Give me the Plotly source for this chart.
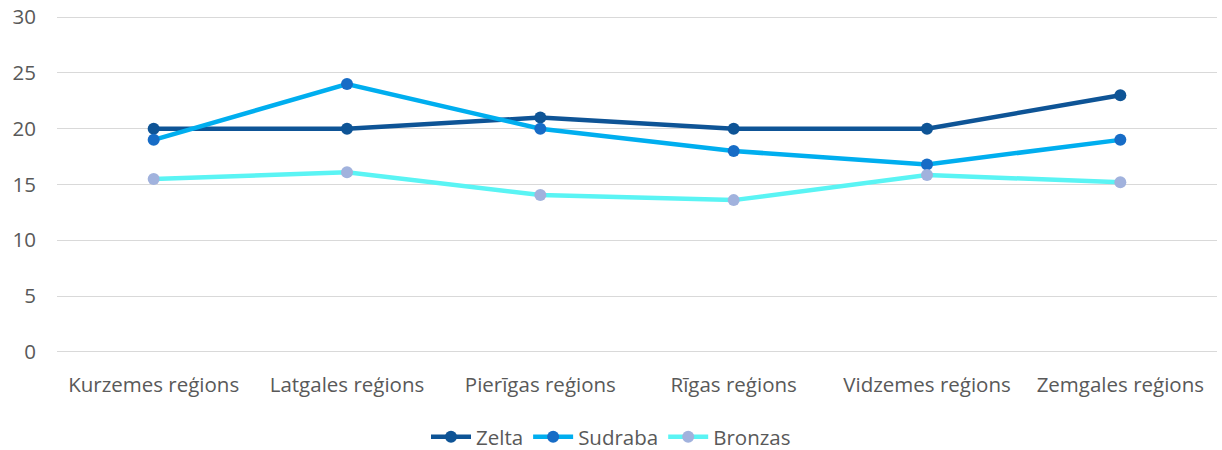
import plotly.graph_objects as go

categories = ["Kurzemes reģions", "Latgales reģions", "Pierīgas reģions",
              "Rīgas reģions", "Vidzemes reģions", "Zemgales reģions"]
zelta = [20, 20, 21, 20, 20, 23]
sudraba = [19, 24, 20, 18, 16.8, 19]
bronzas = [15.5, 16.1, 14.05, 13.6, 15.85, 15.2]

series = [
    ("Zelta", zelta, "#0E5496", "#0E5496"),
    ("Sudraba", sudraba, "#00AEEF", "#176CC6"),
    ("Bronzas", bronzas, "#5AF4F4", "#A1B2DD"),
]

fig = go.Figure()
for name, vals, lc, mc in series:
    fig.add_trace(go.Scatter(
        x=categories, y=vals, name=name, mode="lines+markers",
        line=dict(color=lc, width=4.5),
        marker=dict(color=mc, size=12),
    ))

font = "'Open Sans', sans-serif"
fs = 20.5
fig.update_layout(
    width=1222, height=450,
    margin=dict(l=57, r=5, t=16, b=97, autoexpand=False),
    paper_bgcolor="white", plot_bgcolor="white",
    font=dict(family=font, size=fs, color="#595959"),
    showlegend=True,
    legend=dict(orientation="h", x=0.5, xanchor="center", xref="container",
                y=1 - 437 / 450, yanchor="middle", yref="container",
                font=dict(size=fs, color="#595959"), itemwidth=40, traceorder="normal"),
    xaxis=dict(type="category", range=[-0.5, 5.5], showgrid=False, showline=False,
               zeroline=False, ticks="outside", ticklen=13, tickcolor="rgba(0,0,0,0)",
               automargin=False, tickfont=dict(size=fs, color="#595959")),
    yaxis=dict(range=[-0.1, 30.1], tickvals=[0, 5, 10, 15, 20, 25, 30], showgrid=True,
               gridcolor="#D9D9D9", gridwidth=1.3,
               zeroline=False, showline=False, ticks="outside", ticklen=16,
               automargin=False,
               tickcolor="rgba(0,0,0,0)", tickfont=dict(size=fs, color="#595959")),
)
fig.write_html("out.html", config={"displayModeBar": False},
               post_script="document.body.style.margin='0';document.body.style.overflow='hidden';")
